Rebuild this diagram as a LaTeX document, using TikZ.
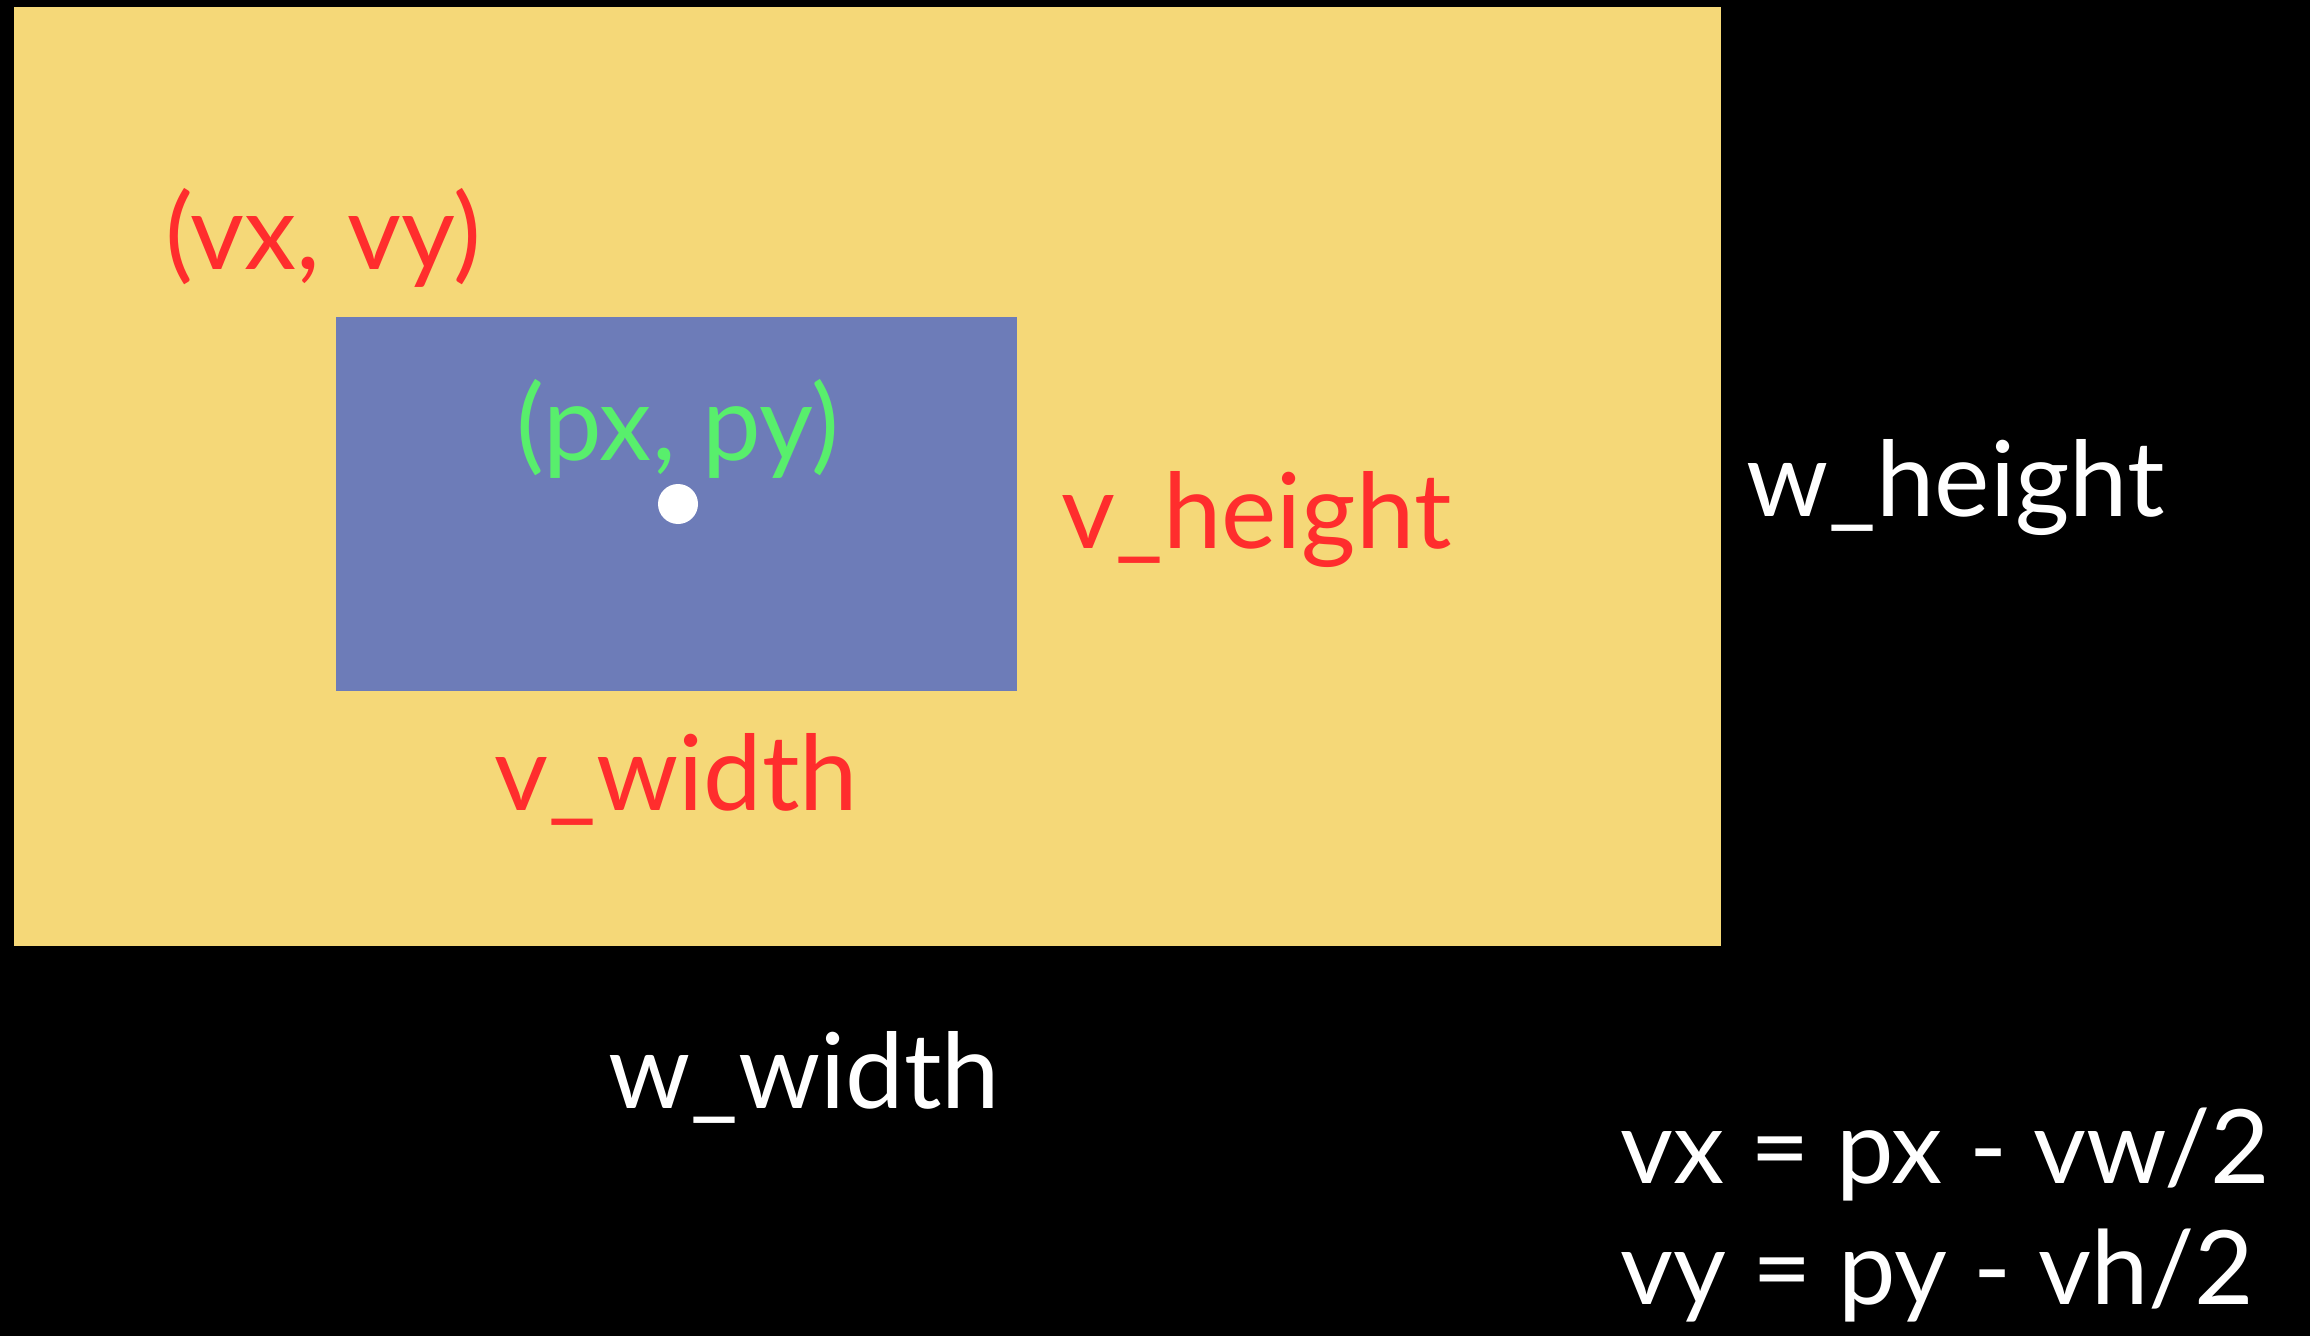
\documentclass[tikz,border=0pt]{standalone}
\usepackage{fontspec}
\setmainfont{Lato}
\definecolor{winyellow}{HTML}{F5D878}
\definecolor{viewblue}{HTML}{6D7CB8}
\definecolor{labred}{HTML}{FF2D2D}
\definecolor{labgreen}{HTML}{58EF6C}
\tikzset{
  lab/.style={anchor=base west, inner sep=0pt, font=\fontsize{105}{120}\selectfont},
  redlab/.style={lab, text=labred},
  whitelab/.style={lab, text=white},
  eqlab/.style={anchor=base west, inner sep=0pt, text=white, font=\fontsize{103}{120}\selectfont},
}
\begin{document}
\begin{tikzpicture}[x=1bp,y=-1bp]
\fill[black] (0,0) rectangle (2310,1336);
\useasboundingbox (0,0) rectangle (2310,1336);
\node[fill=winyellow, anchor=north west, inner sep=0pt, minimum width=1707bp, minimum height=939bp] (win) at (14,7) {};
\node[fill=viewblue, anchor=north west, inner sep=0pt, minimum width=681bp, minimum height=374bp] (view) at (336,317) {};
\node[redlab] (vxy) at (165,270) {(vx, vy)};
\node[lab, text=labgreen] (pxy) at (516,460) {(px, py)};
\node[circle, fill=white, inner sep=0pt, minimum size=40bp] (dot) at (678,504) {};
\node[redlab] (vh) at (1061,548) {v\_height};
\node[redlab] (vw) at (494,810) {v\_width};
\node[whitelab] (wh) at (1746,516) {w\_height};
\node[whitelab] (ww) at (608,1108) {w\_width};
\node[eqlab] (eq1) at (1620,1183) {vx = px - vw/2};
\node[eqlab] (eq2) at (1620,1304) {vy = py - vh/2};
\end{tikzpicture}
\end{document}
